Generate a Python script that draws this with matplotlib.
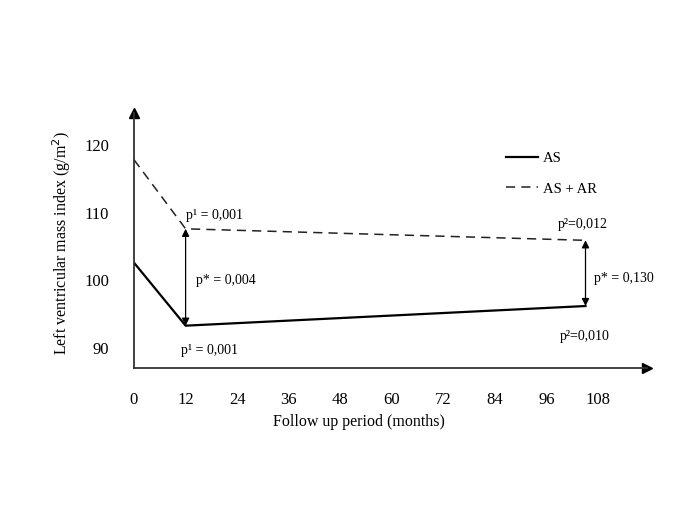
import matplotlib.pyplot as plt

plt.rcParams['font.family'] = ['Liberation Serif', 'DejaVu Serif']

# 数据
months = [0, 12, 105]
as_lvmi = [102.6, 93.3, 96.2]
as_ar_lvmi = [117.8, 107.6, 105.9]
xticks = [0, 12, 24, 36, 48, 60, 72, 84, 96, 108]
yticks = [90, 100, 110, 120]

fig = plt.figure(figsize=(6.85, 5.13), dpi=100)
ax = fig.add_axes([134 / 685, 1 - 368 / 513, (647 - 134) / 685, (368 - 113) / 513])

ax.plot(months, as_lvmi, color='black', lw=1.6, label='AS')
ax.plot(months, as_ar_lvmi, color='#222222', lw=1.1, ls=(0, (6, 4)), label='AS + AR')

ax.set_xlim(0, 119.3)
ax.set_ylim(87.05, 124.7)
ax.set_xticks(xticks)
ax.set_yticks(yticks)
ax.tick_params(length=0, labelsize=12)
ax.tick_params(axis='x', pad=17)
ax.tick_params(axis='y', pad=18)

for s in ['top', 'right']:
    ax.spines[s].set_visible(False)
for s in ['left', 'bottom']:
    ax.spines[s].set_linewidth(1.3)
    ax.spines[s].set_color('#333333')

# 坐标轴箭头
ax.plot(1, 0, '>', color='black', ms=7, transform=ax.transAxes, clip_on=False)
ax.plot(0, 1, '^', color='black', ms=7, transform=ax.transAxes, clip_on=False)

ax.set_xlabel('Follow up period (months)', fontsize=11.5)
ax.set_ylabel('Left ventricular mass index (g/m$^2$)', fontsize=11.5)
ax.xaxis.set_label_coords(0.439, -0.18)
ax.yaxis.set_label_coords(-0.118, 0.49)

# 组间差异双向箭头
for i in [1, 2]:
    ax.annotate('', xy=(months[i], as_lvmi[i]), xytext=(months[i], as_ar_lvmi[i]),
                arrowprops=dict(arrowstyle='<|-|>', color='black', lw=0.9,
                                mutation_scale=11, shrinkA=0, shrinkB=0))

fs = 10
ax.text(12, 109.5, 'p¹ = 0,001', fontsize=fs, ha='left', va='center')
ax.text(14.5, 100.0, 'p* = 0,004', fontsize=fs, ha='left', va='center')
ax.text(11, 89.6, 'p¹ = 0,001', fontsize=fs, ha='left', va='center')
ax.text(98.5, 108.3, 'p²=0,012', fontsize=fs, ha='left', va='center')
ax.text(107, 100.3, 'p* = 0,130', fontsize=fs, ha='left', va='center')
ax.text(99, 91.7, 'p²=0,010', fontsize=fs, ha='left', va='center')

ax.legend(frameon=False, loc='upper left', bbox_to_anchor=(0.70, 0.90),
          fontsize=10.5, handlelength=2.2, labelspacing=1.2, handletextpad=0.3)

fig.savefig('out.png', dpi=100, facecolor='white')
